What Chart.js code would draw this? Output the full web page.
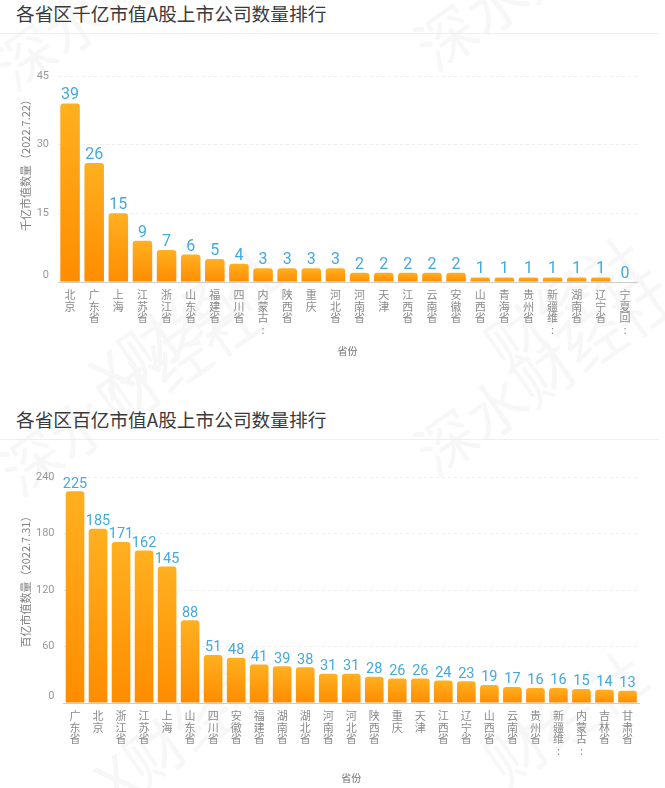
<!DOCTYPE html>
<html lang="zh">

<head>
    <meta charset="UTF-8">
    <title>各省区A股上市公司数量排行</title>
    <style>
        html, body { margin: 0; padding: 0; background: #fff; }
        body { position: relative; width: 665px; height: 788px; overflow: hidden; font-family: "Noto Sans CJK SC", sans-serif; }
        .titulo { position: absolute; left: 16px; font-size: 18.7px; line-height: 26px; color: #3a3a3a; white-space: nowrap; }
        .linha { position: absolute; left: 0; width: 659px; height: 1px; background: #eeeeee; }
        canvas { position: absolute; left: 0; }
        .marca { position: absolute; font-size: 60px; font-weight: 400; color: #f7f7f7; white-space: nowrap; transform: rotate(-35deg); transform-origin: left bottom; }
    </style>
    <script src="https://cdn.jsdelivr.net/npm/chart.js"></script>
</head>

<body>
    <span class="marca" style="left: 24px; top: 20px;">深水财经社</span>
    <span class="marca" style="left: 445px; top: 0px;">深水财经社</span>
    <span class="marca" style="left: 120px; top: 330px;">X财经社</span>
    <span class="marca" style="left: 515px; top: 300px;">财经社</span>
    <span class="marca" style="left: 30px; top: 425px;">深水财经社</span>
    <span class="marca" style="left: 445px; top: 405px;">深水财经社</span>
    <span class="marca" style="left: 125px; top: 735px;">X财经社</span>
    <span class="marca" style="left: 515px; top: 715px;">财经社</span>

    <div class="titulo" style="top: 0px;">各省区千亿市值A股上市公司数量排行</div>
    <div class="linha" style="top: 33px;"></div>
    <canvas id="grafico-qianyi" style="top: 34px;"></canvas>

    <div class="titulo" style="top: 406px;">各省区百亿市值A股上市公司数量排行</div>
    <div class="linha" style="top: 439px;"></div>
    <canvas id="grafico-baiyi" style="top: 440px;"></canvas>

    <script>
        // dados
        const provinciasQianyi = ['北京', '广东省', '上海', '江苏省', '浙江省', '山东省', '福建省', '四川省', '内蒙古:', '陕西省', '重庆', '河北省', '河南省', '天津', '江西省', '云南省', '安徽省', '山西省', '青海省', '贵州省', '新疆维:', '湖南省', '辽宁省', '宁夏回:'];
        const valoresQianyi = [39, 26, 15, 9, 7, 6, 5, 4, 3, 3, 3, 3, 2, 2, 2, 2, 2, 1, 1, 1, 1, 1, 1, 0];

        const provinciasBaiyi = ['广东省', '北京', '浙江省', '江苏省', '上海', '山东省', '四川省', '安徽省', '福建省', '湖南省', '湖北省', '河南省', '河北省', '陕西省', '重庆', '天津', '江西省', '辽宁省', '山西省', '云南省', '贵州省', '新疆维:', '内蒙古:', '吉林省', '甘肃省'];
        const valoresBaiyi = [225, 185, 171, 162, 145, 88, 51, 48, 41, 39, 38, 31, 31, 28, 26, 26, 24, 23, 19, 17, 16, 16, 15, 14, 13];

        const fonteCjk = '"Noto Sans CJK SC", sans-serif';

        // escreve o valor em cima de cada barra
        const rotuloValor = {
            id: 'rotuloValor',
            afterDatasetsDraw(chart, args, opts) {
                const ctx = chart.ctx;
                const meta = chart.getDatasetMeta(0);
                ctx.save();
                ctx.fillStyle = '#45a9dc';
                ctx.font = opts.tamanho + 'px Roboto, sans-serif';
                ctx.textAlign = 'center';
                ctx.textBaseline = 'bottom';
                meta.data.forEach(function (barra, i) {
                    ctx.fillText(chart.data.datasets[0].data[i], barra.x, barra.y + opts.folga);
                });
                ctx.restore();
            }
        };

        function corBarra(context) {
            const chart = context.chart;
            if (!chart.chartArea || context.raw === undefined) {
                return '#ff9a0a';
            }
            const escala = chart.scales.y;
            const topo = escala.getPixelForValue(context.raw);
            const base = escala.getPixelForValue(0);
            const grad = chart.ctx.createLinearGradient(0, topo, 0, Math.max(base, topo + 1));
            grad.addColorStop(0, '#ffb020');
            grad.addColorStop(1, '#ff8c00');
            return grad;
        }

        function criarGrafico(id, cfg) {
            const canvas = document.getElementById(id);
            canvas.width = 665;
            canvas.height = cfg.altura;
            canvas.style.width = '665px';
            canvas.style.height = cfg.altura + 'px';

            return new Chart(canvas, {
                type: 'bar',
                data: {
                    // cada caractere em uma linha, como no original
                    labels: cfg.labels.map(function (nome) { return Array.from(nome); }),
                    datasets: [{
                        data: cfg.valores,
                        backgroundColor: corBarra,
                        borderRadius: { topLeft: 3, topRight: 3 },
                        borderSkipped: 'bottom',
                        categoryPercentage: 1,
                        barPercentage: 0.81
                    }]
                },
                plugins: [rotuloValor],
                options: {
                    responsive: false,
                    animation: false,
                    devicePixelRatio: 1,
                    layout: { padding: { top: cfg.topo, right: cfg.direita, bottom: cfg.baixo, left: 0 } },
                    plugins: {
                        legend: { display: false },
                        tooltip: { enabled: false },
                        rotuloValor: { tamanho: cfg.fonteValor, folga: cfg.folga }
                    },
                    scales: {
                        x: {
                            afterFit(escala) { escala.height = cfg.alturaX; },
                            grid: { display: false },
                            border: { color: '#cccccc' },
                            ticks: {
                                autoSkip: false,
                                maxRotation: 0,
                                minRotation: 0,
                                padding: -1,
                                color: '#8a8a8a',
                                font: { family: fonteCjk, size: 11, lineHeight: 1.06 }
                            },
                            title: {
                                display: true,
                                text: '省份',
                                color: '#707070',
                                padding: 0,
                                font: { family: fonteCjk, size: 10 }
                            }
                        },
                        y: {
                            min: 0,
                            max: cfg.maximo,
                            afterFit(escala) { escala.width = cfg.larguraY; },
                            grid: { color: '#eeeeee', drawTicks: false },
                            border: { display: false, dash: [3, 3] },
                            ticks: {
                                stepSize: cfg.passo,
                                padding: 9,
                                color: '#999999',
                                font: { family: 'Roboto, sans-serif', size: 11 },
                                // o zero fica um pouco acima do eixo
                                callback: function (valor) { return valor === 0 ? ['0', ' '] : String(valor); }
                            },
                            title: {
                                display: true,
                                text: cfg.tituloY,
                                color: '#808080',
                                padding: { top: 19, bottom: 0 },
                                font: { family: fonteCjk, size: 11 }
                            }
                        }
                    }
                }
            });
        }

        criarGrafico('grafico-qianyi', {
            altura: 356, topo: 42, baixo: 33, direita: 28, alturaX: 75, larguraY: 58,
            labels: provinciasQianyi, valores: valoresQianyi,
            maximo: 45, passo: 15, fonteValor: 16, folga: 0,
            tituloY: '\u3000\u3000\u3000千亿市值数量（2022.7.22）'
        });

        criarGrafico('grafico-baiyi', {
            altura: 348, topo: 37, baixo: 4, direita: 26, alturaX: 81, larguraY: 63.5,
            labels: provinciasBaiyi, valores: valoresBaiyi,
            maximo: 240, passo: 60, fonteValor: 14.5, folga: 0,
            tituloY: '\u3000\u3000百亿市值数量（2022.7.31）'
        });
    </script>
</body>

</html>
